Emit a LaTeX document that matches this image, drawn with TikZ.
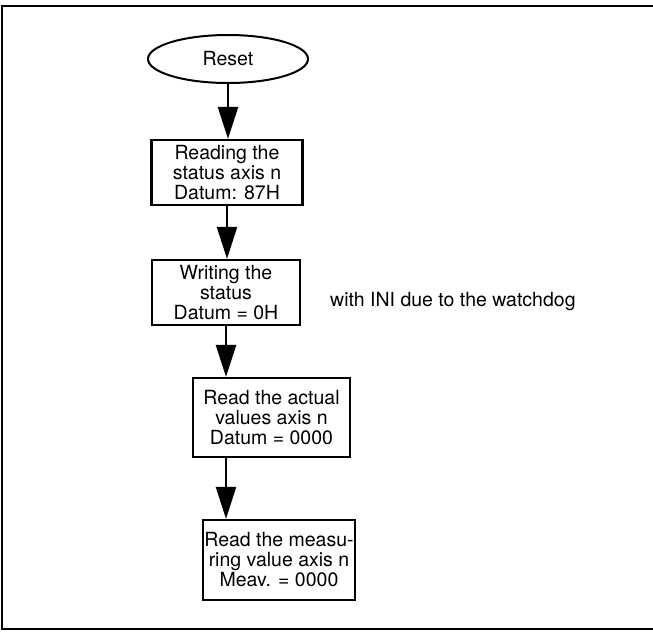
\documentclass[tikz,border=0pt]{standalone}
\usepackage{fontspec}
\setmainfont{TeX Gyre Heros}
\usetikzlibrary{arrows.meta,shapes.geometric}

\begin{document}
\begin{tikzpicture}[x=1pt,y=-1pt,
  every node/.style={font=\fontsize{19.5}{20}\selectfont, align=center, inner sep=0pt},
  stepbox/.style={draw, line width=2.2pt, rectangle},
  startnode/.style={draw, line width=2pt, ellipse, minimum width=160pt, minimum height=48pt},
  flow/.style={line width=2.4pt, -{Triangle[length=32pt,width=20pt]}},
  frameline/.style={line width=2.4pt}
]
\useasboundingbox (0,0) rectangle (653,632);

% outer frame (open on the right)
\draw[frameline] (653,6) -- (2,6) -- (2,629) -- (653,629);

% start
\node[startnode] (reset) at (228,59) {\raisebox{-3pt}{Reset}};

% processing steps
\node[stepbox, minimum width=151pt, minimum height=65pt] (s1) at (227,172.5)
  {Reading the\\status axis n\\Datum: 87H};
\node[stepbox, minimum width=148pt, minimum height=65pt] (s2) at (226,292.5)
  {Writing the\\status\\Datum = 0H};
\node[stepbox, minimum width=157pt, minimum height=79pt] (s3) at (271.5,417.5)
  {Read the actual\\values axis n\\Datum = 0000};
\node[stepbox, minimum width=152pt, minimum height=80pt] (s4) at (279,560)
  {Read the measu-\\ring value axis n\\Meav. = 0000};

% side remark
\node[anchor=base west] (note) at (330,306) {with INI due to the watchdog};

% connectors
\draw[flow] (reset.south) -- (reset.south |- s1.north);
\draw[flow] (s1.south) -- (s1.south |- s2.north);
\draw[flow] (s2.south) -- (s2.south |- s3.north);
\draw[flow] (s2.south |- s3.south) -- (s2.south |- s4.north);
\end{tikzpicture}
\end{document}
